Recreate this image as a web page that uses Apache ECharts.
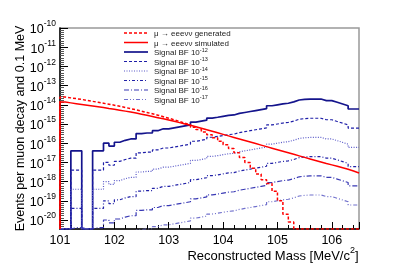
<!DOCTYPE html>
<html><head><meta charset="utf-8">
<script src="https://cdn.jsdelivr.net/npm/echarts@6/dist/echarts.min.js"></script>
<style>html,body{margin:0;padding:0;background:#fff}#c{width:399px;height:270px}#err{position:absolute;left:0;top:0;font:9px monospace;color:#c00}</style>
</head><body><div id="c"></div><div id="err"></div>
<script>
// ---- data (log10 of events per muon decay per 0.1 MeV bin; null = empty bin) ----
const massStart = 101.0;      // low edge of first bin [MeV/c^2]
const binWidth = 0.1;         // MeV
const xMin = 101.0, xMax = 106.5;
const yLogMin = -20.47, yLogMax = -10;   // y range in log10 units
const xTickLabels = [101, 102, 103, 104, 105, 106];

const legendNames = ['gen', 'sim', 'bf12', 'bf13', 'bf14', 'bf15', 'bf16', 'bf17'];
const legendTexts = ['μ → eeeνν generated', 'μ → eeeνν simulated',
  'Signal BF 10', 'Signal BF 10', 'Signal BF 10', 'Signal BF 10', 'Signal BF 10', 'Signal BF 10'];
const legendExps = ['', '', '-12', '-13', '-14', '-15', '-16', '-17'];

const generatedLog10 = [-13.6,-13.64,-13.68,-13.72,-13.77,-13.82,-13.87,-13.92,-13.97,-14.02,
  -14.08,-14.14,-14.2,-14.26,-14.33,-14.4,-14.47,-14.54,-14.62,-14.7,
  -14.78,-14.87,-14.96,-15.06,-15.17,-15.29,-15.42,-15.56,-15.72,-15.9,
  -16.08,-16.28,-16.5,-16.75,-17.0,-17.3,-17.6,-17.9,-18.1,-18.5,
  -19.0,-19.7,-20.1,null,null,null,null,null,null,null,
  null,null,null,null,null];
const simulatedLog10 = [-13.86,-13.9,-13.94,-13.98,-14.02,-14.06,-14.1,-14.14,-14.19,-14.23,
  -14.28,-14.33,-14.38,-14.43,-14.49,-14.55,-14.61,-14.67,-14.73,-14.79,
  -14.86,-14.93,-15.0,-15.07,-15.14,-15.22,-15.3,-15.38,-15.46,-15.54,
  -15.62,-15.7,-15.78,-15.86,-15.94,-16.02,-16.1,-16.18,-16.26,-16.34,
  -16.42,-16.5,-16.58,-16.66,-16.74,-16.82,-16.9,-16.98,-17.06,-17.13,
  -17.2,-17.28,-17.36,-17.45,-17.55];
const bf12Log10 = [null,null,-16.4,-16.4,null,null,-16.4,-16.4,-16.0,-16.15,
  -15.95,-15.85,-15.78,-15.78,-15.5,-15.47,-15.47,-15.35,-15.25,-15.25,
  -15.2,-15.15,-15.1,-15.05,-14.9,-14.85,-14.8,-14.69,-14.65,-14.6,
  -14.55,-14.53,-14.45,-14.4,-14.35,-14.3,-14.25,-14.2,-14.05,-14.0,
  -13.95,-13.92,-13.85,-13.75,-13.72,-13.7,-13.7,-13.7,-13.78,-13.78,
  -13.87,-13.96,-14.05,-14.22,-14.22];
const bf13Log10 = [null,null,-17.4,-17.4,null,null,-17.4,-17.4,-17.0,-17.15,
  -16.95,-16.85,-16.78,-16.78,-16.5,-16.47,-16.47,-16.35,-16.25,-16.25,
  -16.2,-16.15,-16.1,-16.05,-15.9,-15.85,-15.8,-15.69,-15.65,-15.6,
  -15.55,-15.53,-15.45,-15.4,-15.35,-15.3,-15.25,-15.2,-15.05,-15.0,
  -14.95,-14.92,-14.85,-14.75,-14.72,-14.7,-14.7,-14.7,-14.78,-14.78,
  -14.87,-14.96,-15.05,-15.22,-15.22];
const bf14Log10 = [null,null,-18.4,-18.4,null,null,-18.4,-18.4,-18.0,-18.15,
  -17.95,-17.85,-17.78,-17.78,-17.5,-17.47,-17.47,-17.35,-17.25,-17.25,
  -17.2,-17.15,-17.1,-17.05,-16.9,-16.85,-16.8,-16.69,-16.65,-16.6,
  -16.55,-16.53,-16.45,-16.4,-16.35,-16.3,-16.25,-16.2,-16.05,-16.0,
  -15.95,-15.92,-15.85,-15.75,-15.72,-15.7,-15.7,-15.7,-15.78,-15.78,
  -15.87,-15.96,-16.05,-16.22,-16.22];
const bf15Log10 = [null,null,-19.4,-19.4,null,null,-19.4,-19.4,-19.0,-19.15,
  -18.95,-18.85,-18.78,-18.78,-18.5,-18.47,-18.47,-18.35,-18.25,-18.25,
  -18.2,-18.15,-18.1,-18.05,-17.9,-17.85,-17.8,-17.69,-17.65,-17.6,
  -17.55,-17.53,-17.45,-17.4,-17.35,-17.3,-17.25,-17.2,-17.05,-17.0,
  -16.95,-16.92,-16.85,-16.75,-16.72,-16.7,-16.7,-16.7,-16.78,-16.78,
  -16.87,-16.96,-17.05,-17.22,-17.22];
const bf16Log10 = [null,null,-20.4,-20.4,null,null,-20.4,-20.4,-20.0,-20.15,
  -19.95,-19.85,-19.78,-19.78,-19.5,-19.47,-19.47,-19.35,-19.25,-19.25,
  -19.2,-19.15,-19.1,-19.05,-18.9,-18.85,-18.8,-18.69,-18.65,-18.6,
  -18.55,-18.53,-18.45,-18.4,-18.35,-18.3,-18.25,-18.2,-18.05,-18.0,
  -17.95,-17.92,-17.85,-17.75,-17.72,-17.7,-17.7,-17.7,-17.78,-17.78,
  -17.87,-17.96,-18.05,-18.22,-18.22];
const bf17Log10 = [null,null,-21.4,-21.4,null,null,-21.4,-21.4,-21.0,-21.15,
  -20.95,-20.85,-20.78,-20.78,-20.5,-20.47,-20.47,-20.35,-20.25,-20.25,
  -20.2,-20.15,-20.1,-20.05,-19.9,-19.85,-19.8,-19.69,-19.65,-19.6,
  -19.55,-19.53,-19.45,-19.4,-19.35,-19.3,-19.25,-19.2,-19.05,-19.0,
  -18.95,-18.92,-18.85,-18.75,-18.72,-18.7,-18.7,-18.7,-18.78,-18.78,
  -18.87,-18.96,-19.05,-19.22,-19.22];

// ---- build ----
const FONT = 'Liberation Sans';
const styles = {
  gen:  { color: '#ff0000', width: 1.5, type: [3, 2] },
  sim:  { color: '#ff0000', width: 1.5, type: 'solid' },
  bf12: { color: '#14148c', width: 1.7, type: 'solid' },
  bf13: { color: '#1e1ea8', width: 1.2, type: [3, 2] },
  bf14: { color: '#5a5ac8', width: 1.2, type: [1, 1.5] },
  bf15: { color: '#2222a8', width: 1.2, type: [3, 2, 1, 2] },
  bf16: { color: '#3838b4', width: 1.2, type: [5, 2, 1, 2] },
  bf17: { color: '#7070cc', width: 1.2, type: [4, 2, 1, 2, 1, 2] }
};
function histPoints(logs) {
  const val = e => (e === null ? yLogMin : e);   // empty bins sit on the frame floor
  const pts = [[massStart, yLogMin]];
  logs.forEach((e, i) => pts.push([+(massStart + i * binWidth).toFixed(2), val(e)]));
  pts.push([+(massStart + logs.length * binWidth).toFixed(2), val(logs[logs.length - 1])]);
  return pts;
}
function mk(name, logs) {
  const s = styles[name];
  return { name, type: 'line', step: 'end', data: histPoints(logs), symbol: 'none',
    showSymbol: false, clip: true, silent: true,
    lineStyle: { color: s.color, width: s.width, type: s.type }, itemStyle: { color: s.color } };
}
const series = [
  mk('bf12', bf12Log10), mk('bf13', bf13Log10), mk('bf14', bf14Log10),
  mk('bf15', bf15Log10), mk('bf16', bf16Log10), mk('bf17', bf17Log10),
  mk('gen', generatedLog10), mk('sim', simulatedLog10)
];

// legend drawn as graphic elements
const legendEls = [];
legendNames.forEach((n, i) => {
  const y = 33 + i * 9.5;
  const s = styles[n];
  legendEls.push({ type: 'line', shape: { x1: 124, y1: y, x2: 148, y2: y }, silent: true,
    style: { stroke: s.color, lineWidth: s.width, lineDash: Array.isArray(s.type) ? s.type : null } });
  legendEls.push({ type: 'text', x: 154, y: y, silent: true,
    style: { text: '{t|' + legendTexts[i] + '}' + (legendExps[i] ? '{s|' + legendExps[i] + '}' : ''),
      verticalAlign: 'middle', align: 'left',
      rich: { t: { fontFamily: FONT, fontSize: 8, fill: '#222', lineHeight: 10, verticalAlign: 'bottom' },
              s: { fontFamily: FONT, fontSize: 5.5, fill: '#222', verticalAlign: 'top' } } } });
});

try {
const chart = echarts.init(document.getElementById('c'), null, { renderer: 'canvas' });
chart.setOption({
  animation: false,
  backgroundColor: '#fff',
  grid: { left: 60, right: 40, top: 28, bottom: 41, show: true, borderColor: '#999', borderWidth: 1.5,
          containLabel: false, outerBoundsMode: 'none' },
  graphic: legendEls,
  xAxis: {
    type: 'value', min: xMin, max: xMax, interval: 1,
    name: '{t|Reconstructed Mass [MeV/c}{s|2}{t|]}', nameLocation: 'middle', nameGap: 17,
    nameMoveOverlap: false,
    nameTextStyle: { padding: [0, 0, 0, 127],
      rich: { t: { fontFamily: FONT, fontSize: 13, color: '#000', lineHeight: 17, verticalAlign: 'bottom' },
              s: { fontFamily: FONT, fontSize: 9, color: '#000', verticalAlign: 'top' } } },
    axisLine: { show: true, lineStyle: { color: '#000', width: 1.5 } },
    axisTick: { show: true, inside: true, length: 7, lineStyle: { color: '#000' } },
    minorTick: { show: true, splitNumber: 5, length: 4, lineStyle: { color: '#000' } },
    splitLine: { show: false },
    axisLabel: { fontFamily: FONT, fontSize: 12.5, color: '#000', margin: 5, showMaxLabel: false,
      formatter: v => (xTickLabels.indexOf(Math.round(v * 1000) / 1000) >= 0 ? String(v) : '') }
  },
  yAxis: {
    type: 'value', min: yLogMin, max: yLogMax, splitNumber: 10,
    name: 'Events per muon decay and 0.1 MeV', nameLocation: 'middle', nameGap: 33, nameRotate: 90,
    nameMoveOverlap: false,
    nameTextStyle: { fontFamily: FONT, fontSize: 12.5, color: '#000' },
    axisLine: { show: true, lineStyle: { color: '#000', width: 1.5 } },
    axisTick: { show: true, inside: true, length: 8, lineStyle: { color: '#000' } },
    minorTick: { show: true, splitNumber: 9, length: 4, lineStyle: { color: '#555' } },
    splitLine: { show: false },
    axisLabel: { margin: 4, showMinLabel: false,
      formatter: v => { const r = Math.round(v); if (Math.abs(v - r) > 1e-6) return ''; return '{b|10}{s|' + r + '}'; },
      rich: { b: { fontFamily: FONT, fontSize: 12.5, color: '#000', lineHeight: 17, verticalAlign: 'bottom' },
              s: { fontFamily: FONT, fontSize: 8.5, color: '#000', verticalAlign: 'top' } } }
  },
  series
});
} catch (e) { document.getElementById('err').textContent = String(e && e.stack || e); }
</script></body></html>
